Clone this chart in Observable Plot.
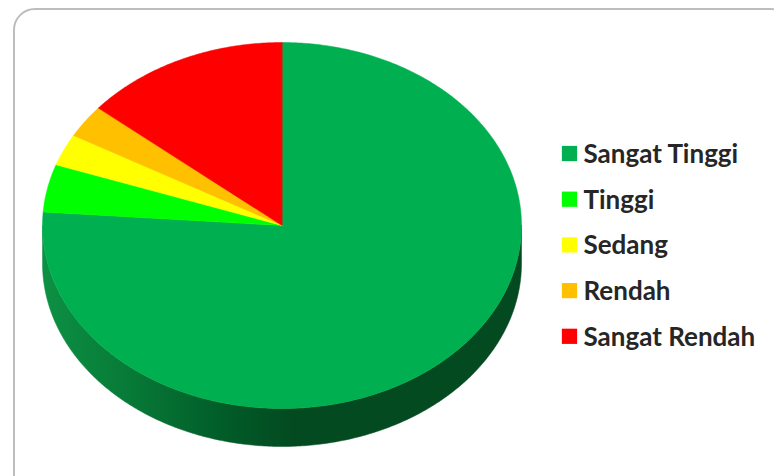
<!DOCTYPE html>
<html>
<head>
<meta charset="utf-8">
<script src="https://cdn.jsdelivr.net/npm/d3@7"></script>
<script src="https://cdn.jsdelivr.net/npm/@observablehq/plot@0.6"></script>
<style>
  html, body { margin: 0; padding: 0; background: #fff; width: 774px; height: 476px; overflow: hidden; }
  #frame { position: absolute; left: 13px; top: 8px; width: 780px; height: 490px; border: 2px solid #bdbdbd; border-radius: 22px; box-sizing: border-box; }
  #chart { position: absolute; left: 0; top: 0; }
</style>
</head>
<body>
<div id="frame"></div>
<div id="chart"></div>
<script>
const categories = ["Sangat Tinggi", "Tinggi", "Sedang", "Rendah", "Sangat Rendah"];
const values = [76.1, 4.2, 2.8, 2.9, 13.9];
const colors = ["#00b050", "#00ff00", "#ffff00", "#ffc000", "#ff0000"];

const W = 774, H = 476;
const cx = 281.5, cy = 225, rx = 239.5, ry = 183, depth = 38;
const ell = (a, dy = 0) => [cx + rx * Math.sin(a), cy - ry * Math.cos(a) + dy];

const arcs = d3.pie().sort(null).value(d => d)(values);

// top face polygons
const topPts = [];
arcs.forEach((arc, i) => {
  const cat = categories[i];
  topPts.push({cat, x: cx, y: cy});
  const n = Math.max(2, Math.ceil((arc.endAngle - arc.startAngle) / 0.01));
  for (let k = 0; k <= n; k++) {
    const a = arc.startAngle + (arc.endAngle - arc.startAngle) * k / n;
    const [x, y] = ell(a);
    topPts.push({cat, x, y});
  }
});

// side wall (visible front half: angles PI/2 .. 3PI/2)
const wallPts = [];
arcs.forEach((arc, i) => {
  const s = Math.max(arc.startAngle, Math.PI / 2), e = Math.min(arc.endAngle, 3 * Math.PI / 2);
  if (e <= s) return;
  const cat = categories[i];
  const n = Math.max(2, Math.ceil((e - s) / 0.01));
  for (let k = 0; k <= n; k++) {
    const a = s + (e - s) * k / n; const [x, y] = ell(a); wallPts.push({cat, x, y});
  }
  for (let k = n; k >= 0; k--) {
    const a = s + (e - s) * k / n; const [x, y] = ell(a, depth); wallPts.push({cat, x, y});
  }
});

const legend = categories.map((c, i) => ({cat: c, i}));
const lx = 569, ly0 = 153, lstep = 45.7;

const plot = Plot.plot({
  width: W, height: H,
  margin: 0,
  x: {domain: [0, W], range: [0, W], axis: null},
  y: {domain: [0, H], range: [0, H], axis: null},
  color: {domain: categories, range: colors},
  marks: [
    Plot.line(wallPts, {x: "x", y: "y", z: "cat", fill: "url(#wallGrad)", stroke: "url(#wallGrad)", strokeWidth: 0.5, curve: "linear-closed"}),
    Plot.line(topPts, {x: "x", y: "y", z: "cat", fill: "cat", stroke: "cat", strokeWidth: 0.5, curve: "linear-closed"}),
    Plot.dot(legend, {x: () => lx, y: d => ly0 + d.i * lstep, symbol: "square", r: 8.6, fill: "cat", stroke: null}),
    Plot.text(legend, {x: () => lx + 14, y: d => ly0 + d.i * lstep, text: "cat", textAnchor: "start", lineAnchor: "middle", fontSize: 26, fontWeight: "bold", fontFamily: "Lato", fill: "#262626", dy: 1})
  ]
});

const defs = `<defs><linearGradient id="wallGrad" gradientUnits="userSpaceOnUse" x1="${cx - rx}" y1="0" x2="${cx + rx}" y2="0">
<stop offset="0" stop-color="#0d9044"/>
<stop offset="0.18" stop-color="#077a37"/>
<stop offset="0.38" stop-color="#015c28"/>
<stop offset="0.52" stop-color="#034a21"/>
<stop offset="1" stop-color="#034a21"/>
</linearGradient></defs>`;
plot.insertAdjacentHTML("afterbegin", defs);
plot.style.background = "transparent";
document.getElementById("chart").appendChild(plot);
</script>
</body>
</html>
